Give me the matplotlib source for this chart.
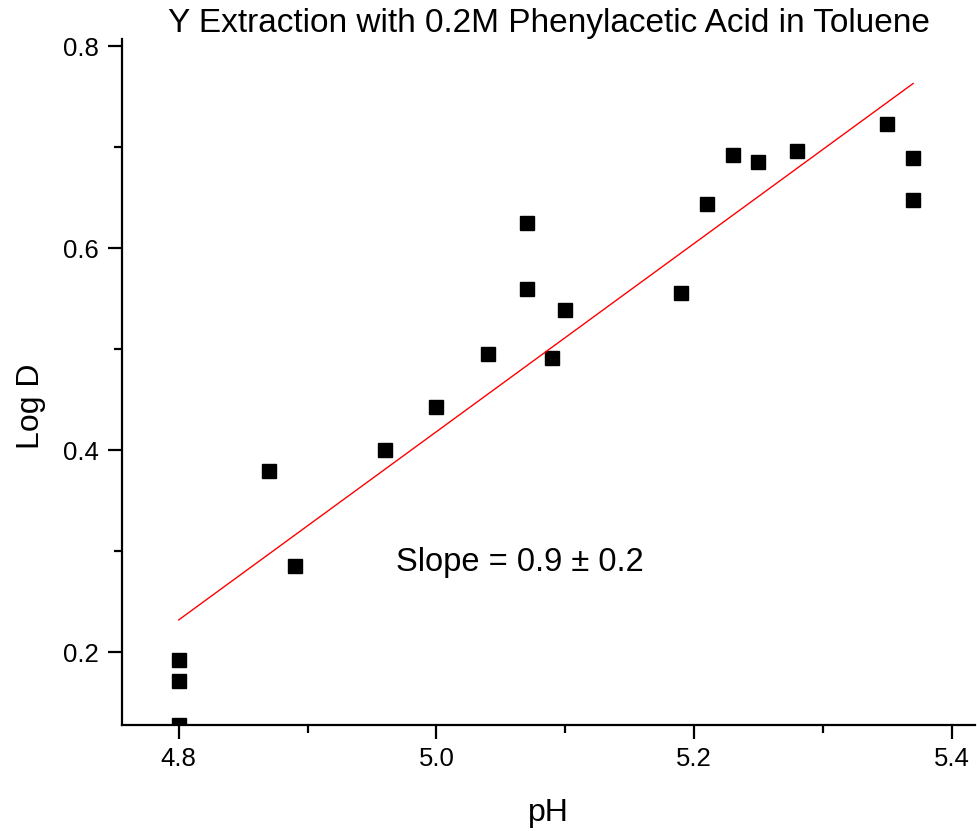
import numpy as np
import matplotlib.pyplot as plt
from matplotlib.ticker import MultipleLocator

plt.rcParams['font.family'] = ['Liberation Sans', 'DejaVu Sans']

ph = [4.80, 4.80, 4.80, 4.87, 4.89, 4.96, 5.00, 5.04, 5.07, 5.07, 5.09, 5.10,
      5.19, 5.21, 5.23, 5.25, 5.28, 5.35, 5.37, 5.37]
log_d = [0.192, 0.172, 0.128, 0.379, 0.285, 0.400, 0.443, 0.495, 0.625, 0.560,
         0.491, 0.539, 0.556, 0.644, 0.692, 0.685, 0.696, 0.723, 0.689, 0.648]

# linear fit line as drawn in the original
fit_x = [4.80, 5.37]
fit_y = [0.232, 0.763]


def main():
    fig = plt.figure(figsize=(9.77, 8.31), dpi=100)
    ax = fig.add_axes([0.1249, 0.1276, 0.873, 0.8254])

    ax.plot(ph, log_d, 's', color='black', ms=10.5, clip_on=True)
    ax.plot(fit_x, fit_y, '-', color='red', lw=1.0)

    ax.set_xlim(4.756, 5.418)
    ax.set_ylim(0.128, 0.807)

    ax.xaxis.set_major_locator(MultipleLocator(0.2))
    ax.xaxis.set_minor_locator(MultipleLocator(0.1))
    ax.yaxis.set_major_locator(MultipleLocator(0.2))
    ax.yaxis.set_minor_locator(MultipleLocator(0.1))
    ax.xaxis.set_major_formatter(plt.FuncFormatter(lambda v, p: f"{v:.1f}"))
    ax.yaxis.set_major_formatter(plt.FuncFormatter(lambda v, p: f"{v:.1f}"))

    for s in ['top', 'right']:
        ax.spines[s].set_visible(False)
    for s in ['left', 'bottom']:
        ax.spines[s].set_linewidth(1.6)

    ax.tick_params(which='major', direction='out', length=10, width=1.6,
                   labelsize=18.5)
    ax.tick_params(axis='x', which='major', pad=6)
    ax.tick_params(axis='y', which='major', pad=7)
    ax.tick_params(which='minor', direction='out', length=5.5, width=1.6)

    ax.set_xlabel("pH", fontsize=23, labelpad=19)
    ax.set_ylabel("Log D", fontsize=23, labelpad=12)
    ax.yaxis.label.set_y(0.465)
    ax.set_title("Y Extraction with 0.2M Phenylacetic Acid in Toluene",
                 fontsize=24, pad=1)

    ax.text(4.969, 0.289, "Slope = 0.9 \u00b1 0.2", fontsize=23.5,
            va='center', ha='left')

    fig.savefig("out.png", dpi=100)


if __name__ == "__main__":
    main()
